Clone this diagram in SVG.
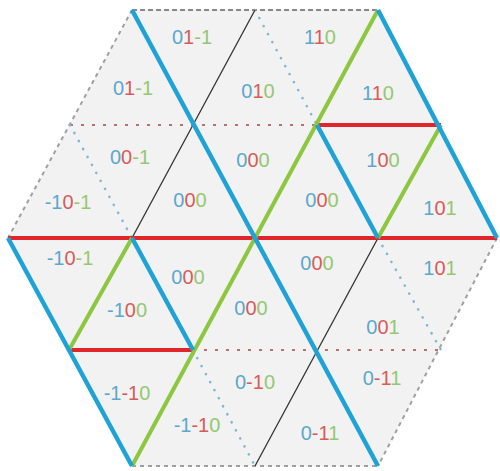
<svg xmlns="http://www.w3.org/2000/svg" width="500" height="471" viewBox="0 0 500 471">
<style>
.cell{fill:#f2f2f2;stroke:none}
text{font-family:"Liberation Sans",Arial,sans-serif;font-size:20px;text-anchor:middle}
.b{fill:#5aa8cc}.r{fill:#d95a5a}.g{fill:#94c870}
.lb{stroke:#1fa3d6;stroke-width:4.5;fill:none}
.lg{stroke:#8dc63f;stroke-width:4;fill:none}
.lr{stroke:#e0262b;stroke-width:4;fill:none}
.lk{stroke:#333;stroke-width:1.3;fill:none}
.db{stroke:#7ab8d8;stroke-width:2.6;stroke-dasharray:0.1 9;stroke-linecap:round;fill:none}
.dr{stroke:#b87070;stroke-width:2;stroke-dasharray:3 8;fill:none}
.dk{stroke:#666;stroke-width:1.6;stroke-dasharray:5 3;fill:none}
.dg{stroke:#a0a0a0;stroke-width:2;stroke-dasharray:4 4;fill:none}
</style>
<polygon points="132,10 378,10 497,238 378,466 132,466 8,238" class="cell"/>
<g id="cells">
<g id="t01"><text x="133" y="95"><tspan class="b">0</tspan><tspan class="r">1</tspan><tspan class="g">-1</tspan></text></g>
<g id="t02"><text x="192" y="44"><tspan class="b">0</tspan><tspan class="r">1</tspan><tspan class="g">-1</tspan></text></g>
<g id="t03"><text x="258" y="98"><tspan class="b">0</tspan><tspan class="r">1</tspan><tspan class="g">0</tspan></text></g>
<g id="t04"><text x="320" y="44"><tspan class="b">1</tspan><tspan class="r">1</tspan><tspan class="g">0</tspan></text></g>
<g id="t05"><text x="378" y="100"><tspan class="b">1</tspan><tspan class="r">1</tspan><tspan class="g">0</tspan></text></g>
<g id="t06"><text x="68" y="209"><tspan class="b">-1</tspan><tspan class="r">0</tspan><tspan class="g">-1</tspan></text></g>
<g id="t07"><text x="130" y="164"><tspan class="b">0</tspan><tspan class="r">0</tspan><tspan class="g">-1</tspan></text></g>
<g id="t08"><text x="190" y="207"><tspan class="b">0</tspan><tspan class="r">0</tspan><tspan class="g">0</tspan></text></g>
<g id="t09"><text x="253" y="167"><tspan class="b">0</tspan><tspan class="r">0</tspan><tspan class="g">0</tspan></text></g>
<g id="t10"><text x="322" y="207"><tspan class="b">0</tspan><tspan class="r">0</tspan><tspan class="g">0</tspan></text></g>
<g id="t11"><text x="383" y="167"><tspan class="b">1</tspan><tspan class="r">0</tspan><tspan class="g">0</tspan></text></g>
<g id="t12"><text x="440" y="215"><tspan class="b">1</tspan><tspan class="r">0</tspan><tspan class="g">1</tspan></text></g>
<g id="t13"><text x="70" y="265"><tspan class="b">-1</tspan><tspan class="r">0</tspan><tspan class="g">-1</tspan></text></g>
<g id="t14"><text x="127" y="317"><tspan class="b">-1</tspan><tspan class="r">0</tspan><tspan class="g">0</tspan></text></g>
<g id="t15"><text x="188" y="284"><tspan class="b">0</tspan><tspan class="r">0</tspan><tspan class="g">0</tspan></text></g>
<g id="t16"><text x="251" y="315"><tspan class="b">0</tspan><tspan class="r">0</tspan><tspan class="g">0</tspan></text></g>
<g id="t17"><text x="317" y="270"><tspan class="b">0</tspan><tspan class="r">0</tspan><tspan class="g">0</tspan></text></g>
<g id="t18"><text x="383" y="334"><tspan class="b">0</tspan><tspan class="r">0</tspan><tspan class="g">1</tspan></text></g>
<g id="t19"><text x="440" y="275"><tspan class="b">1</tspan><tspan class="r">0</tspan><tspan class="g">1</tspan></text></g>
<g id="t20"><text x="127" y="400"><tspan class="b">-1</tspan><tspan class="r">-1</tspan><tspan class="g">0</tspan></text></g>
<g id="t21"><text x="197" y="432"><tspan class="b">-1</tspan><tspan class="r">-1</tspan><tspan class="g">0</tspan></text></g>
<g id="t22"><text x="255" y="389"><tspan class="b">0</tspan><tspan class="r">-1</tspan><tspan class="g">0</tspan></text></g>
<g id="t23"><text x="320" y="440"><tspan class="b">0</tspan><tspan class="r">-1</tspan><tspan class="g">1</tspan></text></g>
<g id="t24"><text x="382" y="385"><tspan class="b">0</tspan><tspan class="r">-1</tspan><tspan class="g">1</tspan></text></g>
</g>
<g id="connectors">
<line class="dk" x1="132" y1="10" x2="378" y2="10"/>
<line class="dg" x1="132" y1="10" x2="8" y2="238"/>
<line class="dg" x1="497" y1="238" x2="378" y2="466"/>
<line class="dg" x1="132" y1="466" x2="378" y2="466"/>
<line class="dr" x1="70" y1="125" x2="317" y2="125"/>
<line class="dr" x1="193" y1="350" x2="441" y2="350"/>
<line class="db" x1="255" y1="10" x2="317" y2="125"/>
<line class="db" x1="70" y1="125" x2="132" y2="238"/>
<line class="db" x1="378" y1="238" x2="441" y2="350"/>
<line class="db" x1="193" y1="350" x2="255" y2="466"/>
<line class="lk" x1="132" y1="238" x2="255" y2="10"/>
<line class="lk" x1="255" y1="466" x2="378" y2="238"/>
<line class="lr" x1="8" y1="238" x2="497" y2="238"/>
<line class="lr" x1="317" y1="125" x2="441" y2="125"/>
<line class="lr" x1="69" y1="350" x2="193" y2="350"/>
<line class="lg" x1="378" y1="10" x2="132" y2="466"/>
<line class="lg" x1="441" y1="125" x2="378" y2="238"/>
<line class="lg" x1="132" y1="238" x2="69" y2="350"/>
<line class="lb" x1="132" y1="10" x2="378" y2="466"/>
<line class="lb" x1="378" y1="10" x2="497" y2="238"/>
<line class="lb" x1="317" y1="125" x2="378" y2="238"/>
<line class="lb" x1="132" y1="238" x2="193" y2="350"/>
<line class="lb" x1="8" y1="238" x2="132" y2="466"/>
</g>
</svg>
